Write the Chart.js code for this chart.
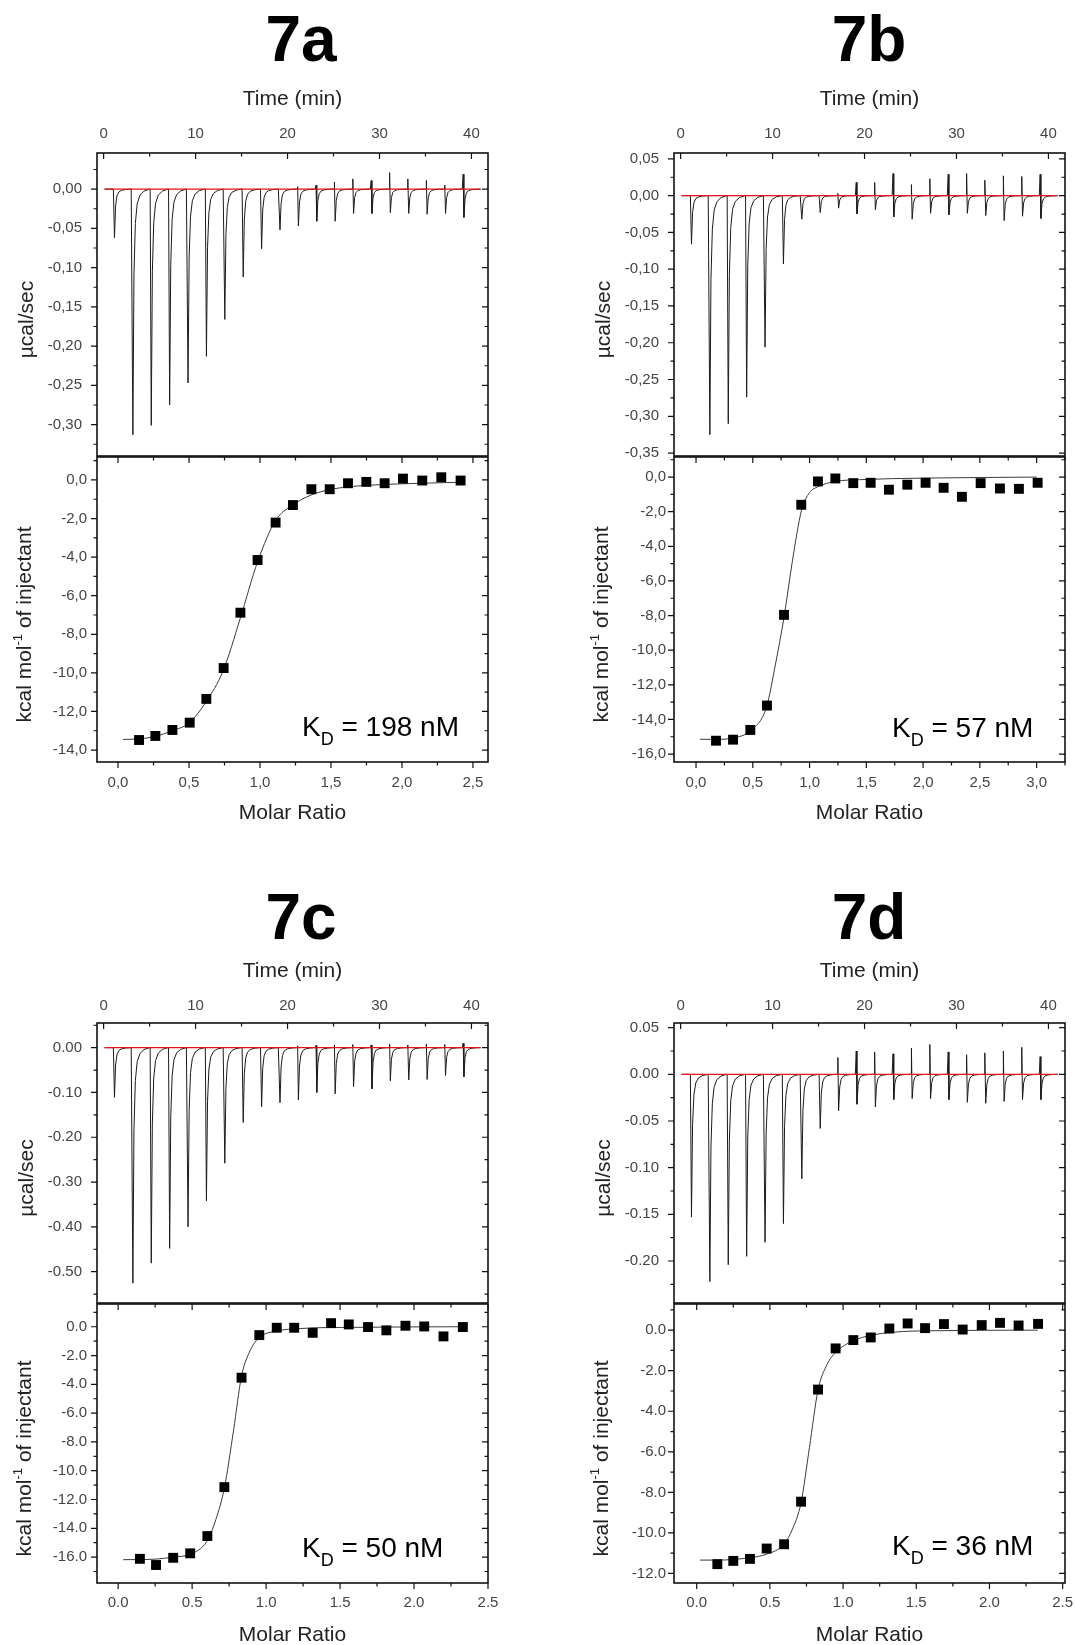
<!DOCTYPE html>
<html>
<head>
<meta charset="utf-8">
<title>ITC 7a-7d</title>
<script src="https://cdn.jsdelivr.net/npm/chart.js@4.4.1/dist/chart.umd.min.js"></script>
<style>
  html, body { margin: 0; padding: 0; background: #fff; }
  body { position: relative; width: 1075px; height: 1645px; overflow: hidden; }
  .lbl { position: absolute; width: 200px; text-align: center; font: bold 64px "Liberation Sans", Arial, sans-serif; line-height: 64px; color: #000; }
  canvas { position: absolute; }
</style>
</head>
<body>
<div class="lbl" style="left:201px; top:7px">7a</div>
<div class="lbl" style="left:769px; top:7px">7b</div>
<div class="lbl" style="left:201px; top:885px">7c</div>
<div class="lbl" style="left:769px; top:885px">7d</div>

<canvas id="top7a" width="537" height="390" style="left:0; top:70px"></canvas>
<canvas id="bot7a" width="537" height="385" style="left:0; top:450px"></canvas>
<canvas id="top7b" width="535" height="390" style="left:540px; top:70px"></canvas>
<canvas id="bot7b" width="535" height="385" style="left:540px; top:450px"></canvas>
<canvas id="top7c" width="537" height="367" style="left:0; top:940px"></canvas>
<canvas id="bot7c" width="537" height="351" style="left:0; top:1297px"></canvas>
<canvas id="top7d" width="535" height="367" style="left:540px; top:940px"></canvas>
<canvas id="bot7d" width="535" height="351" style="left:540px; top:1297px"></canvas>

<script>
// injection times (min), same for all 4 runs
const injTime = [1.1, 3.1, 5.1, 7.1, 9.1, 11.1, 13.1, 15.1, 17.1, 19.1,
                 21.1, 23.1, 25.1, 27.1, 29.1, 31.1, 33.1, 35.1, 37.1, 39.1];

// depth of each injection peak (µcal/sec) + small mixing spike above baseline
const peak7a = [-0.062, -0.313, -0.301, -0.275, -0.247, -0.213, -0.166, -0.112, -0.076, -0.052,
                -0.047, -0.041, -0.041, -0.031, -0.031, -0.030, -0.031, -0.032, -0.031, -0.036];
const up7a   = [0, 0, 0, 0, 0, 0, 0, 0, 0, 0, 0.003, 0.005, 0.009, 0.013, 0.011, 0.021, 0.013, 0.011, 0.005, 0.019];

const peak7b = [-0.066, -0.325, -0.310, -0.274, -0.206, -0.093, -0.032, -0.023, -0.017, -0.025,
                -0.019, -0.029, -0.032, -0.024, -0.026, -0.024, -0.027, -0.034, -0.028, -0.031];
const up7b   = [0, 0, 0, 0, 0, 0, 0, 0, 0.003, 0.018, 0.018, 0.030, 0.015, 0.023, 0.029, 0.030, 0.021, 0.027, 0.026, 0.029];

const peak7c = [-0.111, -0.526, -0.481, -0.448, -0.400, -0.342, -0.258, -0.167, -0.132, -0.123,
                -0.117, -0.100, -0.103, -0.087, -0.092, -0.074, -0.072, -0.071, -0.062, -0.065];
const up7c   = [0, 0, 0, 0, 0, 0, 0, 0, 0, 0, 0.004, 0.005, 0.006, 0.007, 0.006, 0.008, 0.006, 0.008, 0.007, 0.010];

const peak7d = [-0.153, -0.222, -0.204, -0.195, -0.180, -0.160, -0.112, -0.058, -0.039, -0.032,
                -0.035, -0.027, -0.026, -0.026, -0.027, -0.030, -0.031, -0.029, -0.027, -0.027];
const up7d   = [0, 0, 0, 0, 0, 0, 0, 0, 0.018, 0.025, 0.024, 0.022, 0.028, 0.032, 0.024, 0.021, 0.023, 0.025, 0.029, 0.019];

// shape of one peak: minutes after injection / fraction of the depth
const shapeDt   = [0.08, 0.2, 0.35, 0.55, 0.85, 1.3, 1.9];
const shapeFrac = [1, 0.35, 0.14, 0.06, 0.025, 0.008, 0];

// integrated heats (kcal/mol of injectant) vs molar ratio
const ratio7a = [0.148, 0.263, 0.383, 0.505, 0.622, 0.744, 0.862, 0.983, 1.110, 1.232, 1.362, 1.491, 1.620, 1.749, 1.878, 2.007, 2.143, 2.277, 2.413];
const heat7a  = [-13.48, -13.27, -12.96, -12.58, -11.35, -9.75, -6.88, -4.15, -2.21, -1.30, -0.48, -0.48, -0.17, -0.10, -0.17, 0.07, -0.03, 0.14, -0.03];
const fitX7a  = [0.035, 0.15, 0.26, 0.38, 0.5, 0.62, 0.74, 0.86, 0.985, 1.11, 1.23, 1.36, 1.49, 1.62, 1.75, 2.0, 2.41];
const fitY7a  = [-13.45, -13.42, -13.3, -13.0, -12.6, -11.5, -9.9, -7.2, -4.2, -2.1, -1.3, -0.78, -0.5, -0.36, -0.28, -0.2, -0.12];

const ratio7b = [0.176, 0.326, 0.478, 0.625, 0.775, 0.927, 1.074, 1.227, 1.385, 1.538, 1.699, 1.861, 2.022, 2.181, 2.342, 2.507, 2.677, 2.844, 3.009];
const heat7b  = [-15.23, -15.17, -14.61, -13.20, -7.96, -1.60, -0.25, -0.08, -0.35, -0.33, -0.73, -0.44, -0.33, -0.62, -1.14, -0.35, -0.66, -0.68, -0.33];
const fitX7b  = [0.035, 0.18, 0.33, 0.48, 0.62, 0.7, 0.775, 0.85, 0.93, 1.0, 1.077, 1.227, 1.44, 2.0, 3.0];
const fitY7b  = [-15.15, -15.15, -15.07, -14.65, -13.3, -10.8, -8.1, -4.8, -1.9, -0.9, -0.55, -0.25, -0.15, -0.06, 0.0];

const ratio7c = [0.147, 0.256, 0.372, 0.487, 0.603, 0.718, 0.834, 0.954, 1.072, 1.190, 1.315, 1.439, 1.559, 1.689, 1.813, 1.942, 2.069, 2.199, 2.330];
const heat7c  = [-16.12, -16.55, -16.05, -15.74, -14.54, -11.14, -3.54, -0.58, -0.07, -0.07, -0.42, 0.25, 0.16, -0.02, -0.25, 0.07, 0.02, -0.67, -0.02];
const fitX7c  = [0.034, 0.147, 0.256, 0.372, 0.487, 0.6, 0.66, 0.718, 0.78, 0.834, 0.895, 0.952, 1.072, 1.235, 1.6, 2.33];
const fitY7c  = [-16.18, -16.17, -16.14, -16.0, -15.8, -14.9, -13.4, -11.2, -7.2, -3.43, -1.6, -0.76, -0.3, -0.12, -0.04, 0.0];

const ratio7d = [0.141, 0.250, 0.364, 0.478, 0.597, 0.713, 0.829, 0.949, 1.070, 1.189, 1.316, 1.441, 1.560, 1.689, 1.817, 1.947, 2.072, 2.199, 2.332];
const heat7d  = [-11.54, -11.38, -11.28, -10.77, -10.56, -8.46, -2.93, -0.90, -0.49, -0.36, 0.08, 0.33, 0.10, 0.30, 0.03, 0.25, 0.36, 0.23, 0.31];
const fitX7d  = [0.023, 0.141, 0.25, 0.364, 0.478, 0.597, 0.655, 0.713, 0.77, 0.829, 0.89, 0.949, 1.07, 1.195, 1.343, 1.6, 2.33];
const fitY7d  = [-11.34, -11.34, -11.31, -11.22, -11.05, -10.55, -9.8, -8.5, -5.8, -2.95, -1.7, -1.1, -0.52, -0.25, -0.1, -0.03, 0.0];

// tick values
const timeTicks = [0, 10, 20, 30, 40];
const yTop7a = [0, -0.05, -0.10, -0.15, -0.20, -0.25, -0.30];
const yTop7b = [0.05, 0, -0.05, -0.10, -0.15, -0.20, -0.25, -0.30, -0.35];
const yTop7c = [0, -0.1, -0.2, -0.3, -0.4, -0.5];
const yTop7d = [0.05, 0, -0.05, -0.10, -0.15, -0.20];
const yBot7a = [0, -2, -4, -6, -8, -10, -12, -14];
const yBot7b = [0, -2, -4, -6, -8, -10, -12, -14, -16];
const yBot7c = [0, -2, -4, -6, -8, -10, -12, -14, -16];
const yBot7d = [0, -2, -4, -6, -8, -10, -12];
const ratioTicks25 = [0, 0.5, 1.0, 1.5, 2.0, 2.5];
const ratioTicks30 = [0, 0.5, 1.0, 1.5, 2.0, 2.5, 3.0];

const FAM = '"Liberation Sans", Arial, Helvetica, sans-serif';
Chart.defaults.font.family = FAM;
Chart.defaults.color = '#444';

// frame, minor/inner ticks, rotated y title and the K_D note
const isoFrame = {
  id: 'isoFrame',
  afterDraw(chart, args, o) {
    if (!o || !o.xEdges) return;
    const ctx = chart.ctx;
    const a = chart.chartArea;
    const sx = chart.scales.x, sy = chart.scales.y;
    const tickList = (sc, step) => {
      const maj = sc.ticks.map(t => t.value);
      const out = [];
      for (let k = Math.ceil(sc.min / step - 1e-9); k * step <= sc.max + 1e-9; k++) {
        const v = k * step;
        const isMaj = maj.some(m => Math.abs(m - v) < step / 10);
        out.push([sc.getPixelForValue(v), isMaj ? 6 : 3.5]);
      }
      return out;
    };
    ctx.save();
    ctx.strokeStyle = '#111';
    ctx.lineWidth = 1.2;
    ctx.beginPath();
    tickList(sx, o.xMinor).forEach(([p, len]) => {
      o.xEdges.forEach(e => { ctx.moveTo(p, a[e]); ctx.lineTo(p, a[e] + len); });
    });
    tickList(sy, o.yMinor).forEach(([p, len]) => {
      ctx.moveTo(a.left, p); ctx.lineTo(a.left - len, p);
      ctx.moveTo(a.right, p); ctx.lineTo(a.right - len, p);
    });
    ctx.stroke();
    ctx.lineWidth = 1.6;
    ctx.strokeRect(a.left, a.top, a.right - a.left, a.bottom - a.top);
    ctx.restore();

    // y axis title
    ctx.save();
    ctx.fillStyle = '#222';
    ctx.translate(a.left - o.titleGap, (a.top + a.bottom) / 2 + 15);
    ctx.rotate(-Math.PI / 2);
    ctx.textBaseline = 'middle';
    ctx.textAlign = 'left';
    let total = 0;
    o.yTitle.forEach(p => { ctx.font = (p[1] ? '13px ' : '21px ') + FAM; total += ctx.measureText(p[0]).width; });
    let tx = -total / 2;
    o.yTitle.forEach(p => {
      ctx.font = (p[1] ? '13px ' : '21px ') + FAM;
      ctx.fillText(p[0], tx, p[1] ? -7 : 0);
      tx += ctx.measureText(p[0]).width;
    });
    ctx.restore();

    if (o.kd) {
      ctx.save();
      ctx.fillStyle = '#000';
      ctx.textBaseline = 'alphabetic';
      ctx.textAlign = 'left';
      const big = '28px ' + FAM, small = '18px ' + FAM;
      const x0 = a.left + o.kd.dx, y0 = a.bottom - o.kd.dy;
      ctx.font = big;
      const wK = ctx.measureText('K').width;
      ctx.fillText('K', x0, y0);
      ctx.font = small;
      const wD = ctx.measureText('D').width;
      ctx.fillText('D', x0 + wK, y0 + 9);
      ctx.font = big;
      ctx.fillText(' = ' + o.kd.text, x0 + wK + wD, y0);
      ctx.restore();
    }
  }
};
Chart.register(isoFrame);

function numFmt(dec, comma) {
  return v => { const s = Number(v).toFixed(dec); return comma ? s.replace('.', ',') : s; };
}
function fixedTicks(list) {
  return s => { s.ticks = list.map(v => ({ value: v })); };
}
// fixed axis sizes, no extra room for edge labels
function fitX(h) {
  return s => { s.height = h; s.paddingLeft = 0; s.paddingRight = 0; };
}
function fitY(w) {
  return s => { s.width = w; s.paddingTop = 0; s.paddingBottom = 0; };
}

// thermogram line built from the injection table
function trace(peaks, ups) {
  const pts = [{ x: 0.1, y: 0 }];
  injTime.forEach((t, i) => {
    pts.push({ x: t - 0.04, y: 0 });
    if (ups[i]) pts.push({ x: t, y: ups[i] });
    shapeDt.forEach((d, k) => pts.push({ x: t + d, y: peaks[i] * shapeFrac[k] }));
  });
  pts.push({ x: 41.0, y: 0 });
  return pts;
}

const noAxisLines = { grid: { display: false, drawTicks: false }, border: { display: false } };

function topChart(id, c) {
  return new Chart(document.getElementById(id), {
    type: 'scatter',
    data: {
      datasets: [
        { data: [{ x: 0.1, y: 0 }, { x: 41, y: 0 }], showLine: true, borderColor: '#e3121b', borderWidth: 1.4, pointRadius: 0 },
        { data: trace(c.peaks, c.ups), showLine: true, borderColor: '#1b1b1b', borderWidth: 1, pointRadius: 0 }
      ]
    },
    options: {
      responsive: false, animation: false, devicePixelRatio: 1, events: [],
      layout: { padding: { top: 0, bottom: 4, left: 0, right: c.padR } },
      plugins: {
        legend: { display: false }, tooltip: { enabled: false },
        isoFrame: { xEdges: ['top'], xMinor: 5, yMinor: c.yMinor, yTitle: [['µcal/sec', 0]], titleGap: 70 }
      },
      scales: {
        x: {
          type: 'linear', position: 'top', min: -0.72, max: 41.8, ...noAxisLines,
          afterBuildTicks: fixedTicks(timeTicks), afterFit: fitX(83),
          ticks: { padding: c.xPad, autoSkip: false, maxRotation: 0, font: { size: 15 }, callback: v => String(v) },
          title: { display: true, text: 'Time (min)', color: '#222', font: { size: 21 }, padding: { top: c.tPad, bottom: 0 } }
        },
        y: {
          type: 'linear', min: c.ymin, max: c.ymax, ...noAxisLines,
          afterBuildTicks: fixedTicks(c.yTicks), afterFit: fitY(c.yw),
          ticks: { padding: 15, autoSkip: false, font: { size: 15 }, callback: numFmt(c.dec, c.comma) }
        }
      }
    }
  });
}

function botChart(id, c) {
  const pts = c.ratio.map((r, i) => ({ x: r, y: c.heat[i] }));
  const fit = c.fitX.map((r, i) => ({ x: r, y: c.fitY[i] }));
  return new Chart(document.getElementById(id), {
    type: 'scatter',
    data: {
      datasets: [
        { data: pts, pointStyle: 'rect', pointRadius: 7, backgroundColor: '#000', borderColor: '#000', borderWidth: 0 },
        { data: fit, showLine: true, borderColor: '#3a3a3a', borderWidth: 1, pointRadius: 0, cubicInterpolationMode: 'monotone' }
      ]
    },
    options: {
      responsive: false, animation: false, devicePixelRatio: 1, events: [],
      layout: { padding: { top: 6, bottom: 0, left: 0, right: c.padR } },
      plugins: {
        legend: { display: false }, tooltip: { enabled: false },
        isoFrame: {
          xEdges: ['top', 'bottom'], xMinor: 0.25, yMinor: 1, titleGap: 72, kd: c.kd,
          yTitle: [['kcal mol', 0], ['-1', 1], [' of injectant', 0]]
        }
      },
      scales: {
        x: {
          type: 'linear', position: 'bottom', min: c.xmin, max: c.xmax, ...noAxisLines,
          afterBuildTicks: fixedTicks(c.xTicks), afterFit: fitX(c.xh),
          ticks: { padding: c.xPad, autoSkip: false, maxRotation: 0, font: { size: 15 }, callback: numFmt(1, c.comma) },
          title: { display: true, text: 'Molar Ratio', color: '#222', font: { size: 21 }, padding: { top: 0, bottom: c.tPad } }
        },
        y: {
          type: 'linear', min: c.ymin, max: c.ymax, ...noAxisLines,
          afterBuildTicks: fixedTicks(c.yTicks), afterFit: fitY(c.yw),
          ticks: { padding: c.yPad, autoSkip: false, font: { size: 15 }, callback: numFmt(1, c.comma) }
        }
      }
    }
  });
}

// row 1
topChart('top7a', { peaks: peak7a, ups: up7a, ymin: -0.34, ymax: 0.046, yTicks: yTop7a, yMinor: 0.025, dec: 2, comma: true, yw: 97, padR: 49, xPad: 10.5, tPad: 16.4 });
topChart('top7b', { peaks: peak7b, ups: up7b, ymin: -0.354, ymax: 0.058, yTicks: yTop7b, yMinor: 0.025, dec: 2, comma: true, yw: 134, padR: 10, xPad: 10.5, tPad: 16.4 });
botChart('bot7a', { ratio: ratio7a, heat: heat7a, fitX: fitX7a, fitY: fitY7a, xmin: -0.148, xmax: 2.606, ymin: -14.62, ymax: 1.19,
  xTicks: ratioTicks25, yTicks: yBot7a, comma: true, yw: 97, padR: 49, xh: 73, xPad: 12, tPad: 9.4, yPad: 10, kd: { text: '198 nM', dx: 205, dy: 26 } });
botChart('bot7b', { ratio: ratio7b, heat: heat7b, fitX: fitX7b, fitY: fitY7b, xmin: -0.194, xmax: 3.25, ymin: -16.46, ymax: 1.16,
  xTicks: ratioTicks30, yTicks: yBot7b, comma: true, yw: 134, padR: 10, xh: 73, xPad: 12, tPad: 9.4, yPad: 8, kd: { text: '57 nM', dx: 218, dy: 25 } });

// row 2
topChart('top7c', { peaks: peak7c, ups: up7c, ymin: -0.57, ymax: 0.055, yTicks: yTop7c, yMinor: 0.05, dec: 2, comma: false, yw: 97, padR: 49, xPad: 8.5, tPad: 18.4 });
topChart('top7d', { peaks: peak7d, ups: up7d, ymin: -0.245, ymax: 0.055, yTicks: yTop7d, yMinor: 0.025, dec: 2, comma: false, yw: 134, padR: 10, xPad: 8.5, tPad: 18.4 });
botChart('bot7c', { ratio: ratio7c, heat: heat7c, fitX: fitX7c, fitY: fitY7c, xmin: -0.143, xmax: 2.5, ymin: -17.8, ymax: 1.58,
  xTicks: ratioTicks25, yTicks: yBot7c, comma: false, yw: 97, padR: 49, xh: 65, xPad: 11, tPad: 0, yPad: 10, kd: { text: '50 nM', dx: 205, dy: 26 } });
botChart('bot7d', { ratio: ratio7d, heat: heat7d, fitX: fitX7d, fitY: fitY7d, xmin: -0.155, xmax: 2.516, ymin: -12.47, ymax: 1.29,
  xTicks: ratioTicks25, yTicks: yBot7d, comma: false, yw: 134, padR: 10, xh: 65, xPad: 11, tPad: 0, yPad: 8, kd: { text: '36 nM', dx: 218, dy: 28 } });
</script>
</body>
</html>
